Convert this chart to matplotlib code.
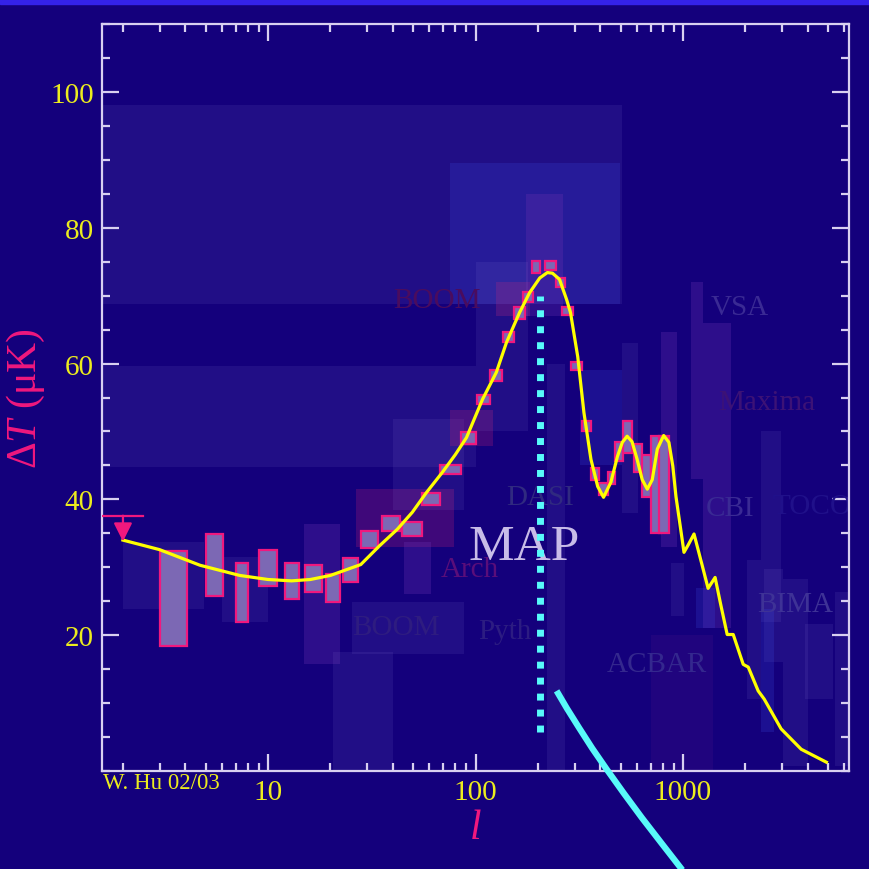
import matplotlib
matplotlib.use('Agg')
import matplotlib.pyplot as plt
from matplotlib.patches import Rectangle
from matplotlib.ticker import LogLocator, MultipleLocator, NullFormatter

plt.rcParams['font.family'] = ['Liberation Serif', 'DejaVu Serif']
plt.rcParams['mathtext.fontset'] = 'custom'
plt.rcParams['mathtext.rm'] = 'Liberation Serif'
plt.rcParams['mathtext.it'] = 'Liberation Serif:italic'

# theory curve (multipole l, Delta T in muK)
curve_l = [2, 3, 4.7, 7.3, 10, 13, 16, 20, 28, 34.3, 42, 49.6, 58, 69.3, 80,
           90.5, 108, 126, 141, 163, 182, 204, 222, 235, 254, 275, 287, 311,
           333, 360, 388, 414, 449, 483, 510, 538, 568, 601, 636, 673, 711,
           752, 807, 855, 893, 925, 980, 1011, 1060, 1130, 1220, 1321, 1428,
           1520, 1633, 1746, 1951, 2063, 2303, 2461, 2972, 3713, 4907]
curve_t = [34.0, 32.6, 30.3, 28.8, 28.2, 28.0, 28.2, 28.8, 30.4, 33.1, 35.6,
           38.1, 41.0, 44.0, 46.6, 49.1, 54.7, 58.7, 63.1, 67.5, 70.4, 72.6,
           73.4, 73.3, 72.4, 69.4, 67.5, 61.0, 52.8, 45.9, 41.9, 40.3, 42.5,
           46.3, 48.4, 49.3, 48.5, 45.9, 42.9, 41.5, 42.9, 47.4, 49.4, 48.4,
           44.9, 40.4, 35.1, 32.2, 33.3, 34.9, 31.0, 26.9, 28.5, 24.5, 20.1,
           20.1, 15.7, 15.3, 11.8, 10.6, 6.2, 3.2, 1.3]

# MAP forecast error boxes
map_l_lo = [3.0, 5.0, 7.0, 9.0, 12.1, 15.1, 19.1, 23.0, 28.1, 35.5, 44.4, 55.5,
            67.7, 85.5, 102, 118, 136, 153, 170, 187, 216, 245, 260, 290, 326,
            360, 394, 435, 470, 515, 580, 635, 700, 765]
map_l_hi = [4.06, 6.1, 8.0, 11.0, 14.1, 18.2, 22.3, 27.2, 34.0, 43.5, 55, 67.7,
            85, 101, 117, 134, 153, 174, 189, 204, 245, 270, 294, 326, 360,
            394, 434, 470, 515, 570, 635, 700, 785, 855]
map_t_lo = [18.4, 25.7, 21.9, 27.2, 25.4, 26.3, 24.9, 27.9, 32.9, 35.4, 34.6,
            39.1, 43.7, 48.1, 54.0, 57.4, 63.1, 66.6, 69.1, 73.4, 73.8, 71.3,
            67.2, 59.1, 50.0, 42.9, 40.6, 42.2, 45.6, 46.9, 44.1, 40.4, 35.1,
            35.1]
map_t_hi = [32.4, 34.9, 30.7, 32.6, 30.6, 30.4, 29.0, 31.3, 35.4, 37.5, 36.6,
            40.9, 45.1, 49.9, 55.4, 59.1, 64.7, 68.4, 70.6, 75.1, 75.1, 72.6,
            68.4, 60.3, 51.5, 44.6, 42.4, 44.1, 48.4, 51.5, 48.1, 46.6, 49.3,
            49.3]

# faint boxes of the other experiments
bg_l_lo = [1.6, 1.6, 75, 2.0, 6.0, 14.9, 20.6, 25.5, 26.6, 40, 45, 75, 126,
           175, 100, 318, 510, 780, 1090, 1250, 2370, 2030, 3870, 5400, 3030,
           2450, 880, 1160, 2370, 700, 220]
bg_l_hi = [507, 100, 495, 4.9, 10.0, 22.3, 40, 88, 79, 88, 61, 121, 184, 263,
           180, 510, 610, 940, 1250, 1710, 2970, 2380, 5300, 6300, 4000, 3030,
           1010, 1420, 2740, 1400, 270]
bg_t_lo = [68.7, 44.8, 68.7, 23.8, 21.9, 15.7, 0, 17.2, 33, 38.5, 26, 47.8, 67,
           67, 50, 45, 38, 33, 43, 21, 22, 10.6, 10.6, 0.7, 0.7, 16, 22.8, 21,
           5.7, 0, 0]
bg_t_hi = [98.1, 59.6, 89.6, 33.7, 31.5, 36.3, 17.5, 24.9, 41.5, 51.8, 33.7,
           53.2, 72, 85, 75, 59, 63, 64.6, 72, 66, 50, 31, 21.6, 26.3, 28.2,
           29.7, 30.7, 27, 23.8, 20, 60]
bg_kind = ['lav', 'lav', 'blue', 'lav', 'lav', 'purple', 'lav', 'lav', 'pink',
           'lav', 'purple', 'pink', 'pink', 'purple', 'lav', 'blue', 'lav',
           'purple', 'purple', 'purple', 'lav', 'lav', 'lav', 'lav', 'lav',
           'lav', 'lav', 'blue', 'blue', 'dim', 'lav']

# experiment names
exp_names = ['BOOM', 'VSA', 'Maxima', 'CBI', 'TOCO', 'BIMA', 'ACBAR', 'DASI',
             'BOOM', 'Arch', 'Pyth']
exp_l = [65.5, 1884, 2520, 1687, 4200, 3475, 748, 204, 41.5, 93.5, 138]
exp_t = [69.4, 68.4, 54.3, 38.8, 39.0, 24.6, 15.7, 40.4, 21.2, 29.8, 20.6]
exp_col = ['#4a0c5e', '#3a2a94', '#3c1276', '#3a2a94', '#20108a', '#3e3296',
           '#34288e', '#302a80', '#2e1c80', '#5a0e7a', '#2c1c82']

# upper limit at l = 2
ulim_l, ulim_top, ulim_bot = 2, 37.6, 33.8

# MAP marker line and pointer
map_line_l, map_line_t = 204, (5.8, 70)
pointer_l = [246, 276, 315, 365, 431, 519, 634, 791, 1000]
pointer_t = [11.8, 9.2, 6.4, 3.35, 0.15, -3.3, -6.9, -10.7, -14.7]

bg = '#14007c'
pink = '#f0187e'
yellow = '#ecec1e'
frame = '#d8d0f0'
cyan = '#58fafa'
kind_style = {'lav': ('#9a8ae0', 0.10), 'blue': ('#3a4ae0', 0.22),
              'pink': ('#b01e78', 0.28), 'purple': ('#6a30b0', 0.30),
              'dim': ('#6a2090', 0.15)}

fig = plt.figure(figsize=(8.69, 8.70), dpi=100, facecolor=bg)
fig.patches.append(Rectangle((0, 1 - 5 / 870), 1, 5 / 870, transform=fig.transFigure,
                             color='#3422e8', zorder=0))
ax = fig.add_axes([102 / 869, 98 / 870, 747 / 869, 747 / 870])
ax.set_facecolor(bg)
ax.set_xscale('log')
ax.set_xlim(10 ** 0.2, 10 ** 3.8)
ax.set_ylim(0, 110)

for lo, hi, tlo, thi, k in zip(bg_l_lo, bg_l_hi, bg_t_lo, bg_t_hi, bg_kind):
    c, a = kind_style[k]
    ax.add_patch(Rectangle((lo, tlo), hi - lo, thi - tlo, facecolor=c, alpha=a,
                           edgecolor='none', zorder=1))

for name, l, t, c in zip(exp_names, exp_l, exp_t, exp_col):
    ax.text(l, t, name, color=c, fontsize=21, ha='center', va='center', zorder=2)

for lo, hi, tlo, thi in zip(map_l_lo, map_l_hi, map_t_lo, map_t_hi):
    ax.add_patch(Rectangle((lo, tlo), hi - lo, thi - tlo, facecolor='#7c68b4',
                           edgecolor=pink, lw=1.6, zorder=3))

ax.text(172, 33, 'MAP', color='#c8bce8', fontsize=37, ha='center', va='center',
        zorder=4)

ax.plot(curve_l, curve_t, color='#ffff00', lw=2.3, zorder=5, solid_joinstyle='round')

ax.plot([map_line_l, map_line_l], map_line_t, color=cyan, lw=5,
        linestyle=(0, (1, 1.3)), dash_capstyle='butt', zorder=6)
ax.plot(pointer_l, pointer_t, color=cyan, lw=4.5, clip_on=False, zorder=6,
        solid_capstyle='butt', solid_joinstyle='round')

# upper limit marker
ax.plot([1.6, 2.49], [ulim_top, ulim_top], color=pink, lw=1.6, zorder=5)
ax.annotate('', xy=(ulim_l, ulim_bot), xytext=(ulim_l, ulim_top),
            arrowprops=dict(arrowstyle='-|>', color=pink, lw=1.6,
                            mutation_scale=28, shrinkA=0, shrinkB=0), zorder=5)

# axes styling
for s in ax.spines.values():
    s.set_color(frame)
    s.set_linewidth(1.6)
ax.set_xticks([10, 100, 1000])
ax.set_xticklabels(['10', '100', '1000'])
ax.xaxis.set_minor_locator(LogLocator(subs=range(2, 10)))
ax.xaxis.set_minor_formatter(NullFormatter())
ax.set_yticks([20, 40, 60, 80, 100])
ax.yaxis.set_minor_locator(MultipleLocator(5))
ax.tick_params(which='both', direction='in', top=True, right=True,
               color=frame, labelcolor=yellow, labelsize=21, pad=6)
ax.tick_params(which='major', length=12, width=1.6)
ax.tick_params(which='minor', length=6, width=1.6)

ax.set_ylabel(r'$\Delta T$ (μK)', color=pink, fontsize=30, labelpad=2)
ax.set_xlabel(r'$l$', color=pink, fontsize=30, labelpad=2)
fig.text(103 / 869, 1 - 784 / 870, 'W. Hu 02/03', color=yellow, fontsize=16.5,
         ha='left', va='center')

fig.savefig('out.png', dpi=100, facecolor=bg)
